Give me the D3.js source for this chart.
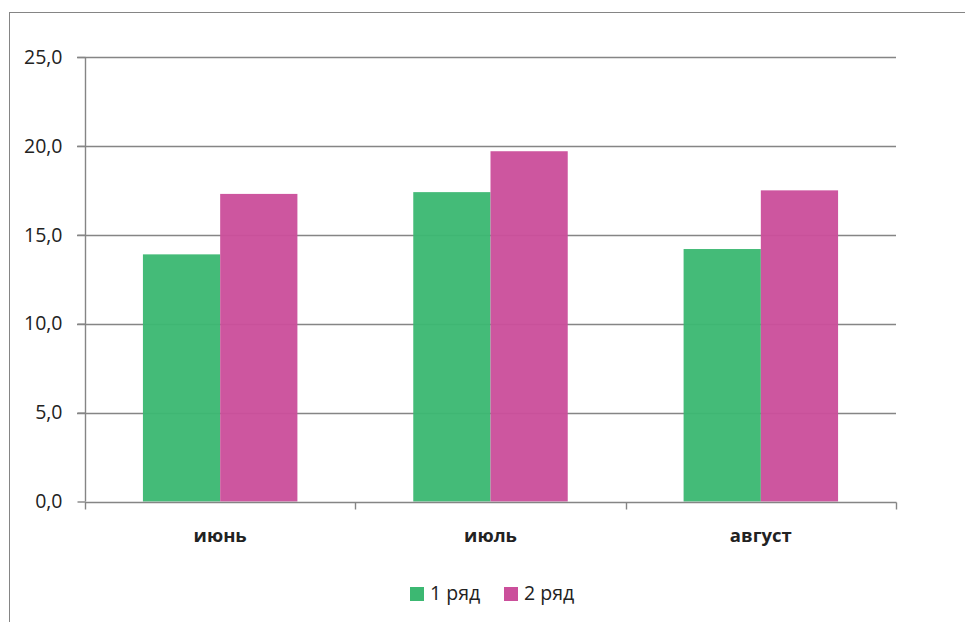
<!DOCTYPE html>
<html><head><meta charset="utf-8">
<script src="https://cdn.jsdelivr.net/npm/d3@7"></script>
<style>html,body{margin:0;padding:0;background:#fff;}svg{display:block;}</style>
</head><body>
<svg id="chart" width="965" height="622"></svg>
<script>
const categories = ["июнь", "июль", "август"];
const seriesNames = ["1 ряд", "2 ряд"];
const series1 = [13.9, 17.4, 14.2];
const series2 = [17.3, 19.7, 17.5];
const yTicks = [0, 5, 10, 15, 20, 25];
const colors = ["#3cb872", "#cb4f9b"];

(function () {
const svg = d3.select("#chart");
const font = "'Open Sans', sans-serif";
const gray = "#858585";
const textCol = "#222";

// outer border
svg.append("rect").attr("x", 9.5).attr("y", 12.5).attr("width", 980).attr("height", 640)
  .attr("fill", "none").attr("stroke", gray).attr("stroke-width", 1);

const pL = 85, pR = 896, pT = 57, pB = 501.5;
const x0 = d3.scaleBand().domain(categories).range([pL, pR]).paddingInner(0).paddingOuter(0);
const x1 = d3.scaleBand().domain([0, 1]).range([0, x0.bandwidth()]).paddingOuter(0.75).paddingInner(0);
const y = d3.scaleLinear().domain([0, 25]).range([pB, pT]);

// gridlines
svg.append("g").selectAll("line").data(yTicks.filter(d => d > 0)).join("line")
  .attr("x1", pL - 8).attr("x2", pR)
  .attr("y1", d => Math.round(y(d)) + 0.5).attr("y2", d => Math.round(y(d)) + 0.5)
  .attr("stroke", gray).attr("stroke-width", 1.4);

// bars
const data = categories.map((c, i) => ({ c, vals: [series1[i], series2[i]] }));
const g = svg.append("g").selectAll("g").data(data).join("g")
  .attr("transform", d => `translate(${x0(d.c)},0)`);
g.selectAll("rect").data(d => d.vals.map((v, k) => ({ v, k }))).join("rect")
  .attr("x", d => x1(d.k)).attr("width", x1.bandwidth())
  .attr("y", d => y(d.v)).attr("height", d => y(0) - y(d.v))
  .attr("fill", d => colors[d.k]).attr("fill-opacity", 0.96);

// y axis
const yAxis = d3.axisLeft(y).tickValues(yTicks).tickSize(8).tickPadding(15)
  .tickFormat(d => d3.format(".1f")(d).replace(".", ","));
const ya = svg.append("g").attr("transform", `translate(${pL + 0.5},0)`).call(yAxis);
ya.select(".domain").attr("stroke", gray).attr("stroke-width", 1.4).attr("d", `M0,${pT}V${pB}`);
ya.selectAll(".tick line").attr("stroke", gray).attr("stroke-width", 1.4);
ya.selectAll(".tick text").attr("font-family", font).attr("font-size", 19.5).attr("fill", textCol);

// x axis
const xa = svg.append("g").attr("transform", `translate(0,${Math.round(pB) + 0.5})`);
xa.append("line").attr("x1", pL).attr("x2", pR + 0.5).attr("stroke", gray).attr("stroke-width", 1.4);
const bounds = categories.map(c => x0(c)).concat([pR]);
xa.selectAll("line.tk").data(bounds).join("line").attr("class", "tk")
  .attr("x1", d => Math.round(d) + 0.5).attr("x2", d => Math.round(d) + 0.5)
  .attr("y1", 0).attr("y2", 7).attr("stroke", gray).attr("stroke-width", 1.4);
xa.selectAll("text").data(categories).join("text")
  .attr("x", d => x0(d) + x0.bandwidth() / 2).attr("y", 39)
  .attr("text-anchor", "middle").attr("font-family", font).attr("font-weight", "bold")
  .attr("font-size", 18.5).attr("fill", textCol).text(d => d);

// legend
const legend = svg.append("g");
const legX = [410, 504];
seriesNames.forEach((n, i) => {
  legend.append("rect").attr("x", legX[i]).attr("y", 587).attr("width", 14).attr("height", 14)
    .attr("fill", colors[i]);
  legend.append("text").attr("x", legX[i] + 20).attr("y", 600)
    .attr("font-family", font).attr("font-size", 19.5).attr("fill", textCol).text(n);
});
})();
</script>
</body></html>
